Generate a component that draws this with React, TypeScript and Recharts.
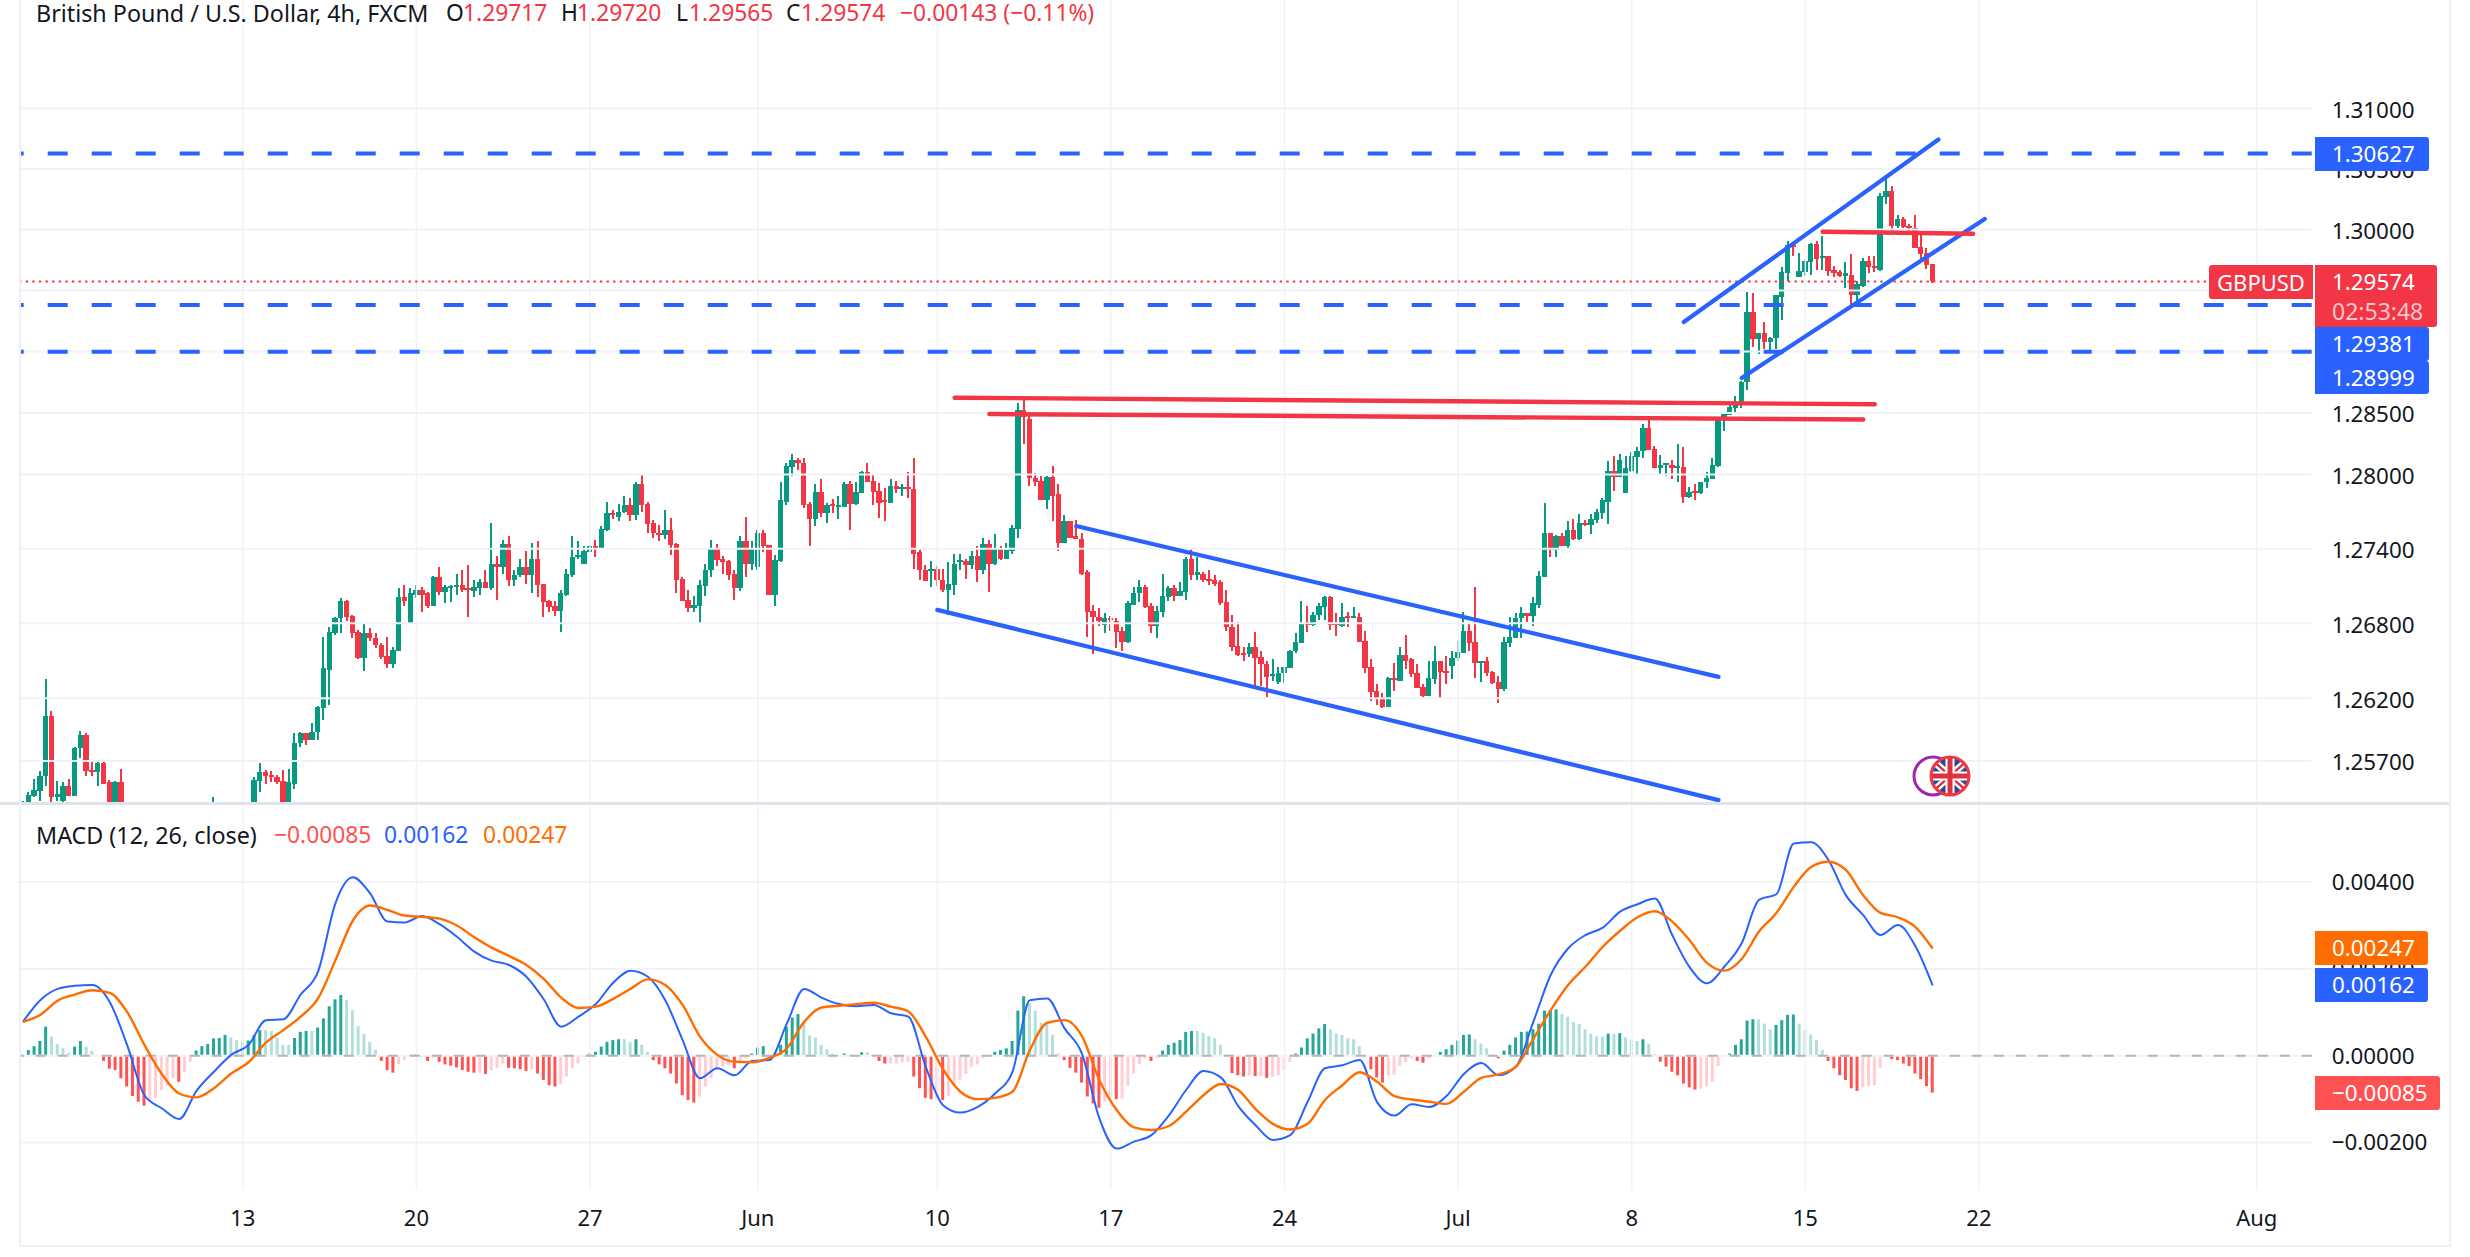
import React from 'react';
import { ComposedChart, Bar, Line, XAxis, YAxis, ReferenceLine, Cell } from 'recharts';

type C = [number, number, number, number] | null;

// open, high, low, close per 4h bar
const ohlcMayA: C[] = [
[1.2530,1.2538,1.2525,1.2533],[1.2533,1.2545,1.2528,1.2543],[1.2542,1.2556,1.2541,1.2547],[1.2546,1.2562,1.2538,1.2558],
[1.2558,1.2635,1.2550,1.2606],[1.2606,1.2610,1.2535,1.2541],[1.2541,1.2554,1.2538,1.2544],[1.2538,1.2553,1.2537,1.2550],
[1.2550,1.2556,1.2542,1.2542],[1.2542,1.2581,1.2542,1.2580],[1.2580,1.2594,1.2572,1.2591],[1.2591,1.2592,1.2558,1.2562],
[1.2563,1.2569,1.2558,1.2562],[1.2561,1.2569,1.2550,1.2568],[1.2568,1.2571,1.2552,1.2552],[1.2553,1.2555,1.2537,1.2537],
[1.2537,1.2554,1.2536,1.2553],[1.2553,1.2564,1.2525,1.2530],
null,null,null,null,null,null,null,null,null,null,null,null,null,null,null,
[1.2530,1.2541,1.2525,1.2535],
null,null,null,null,null,null,
[1.2530,1.2557,1.2525,1.2555],[1.2554,1.2568,1.2545,1.2561],[1.2561,1.2563,1.2552,1.2558],[1.2559,1.2562,1.2553,1.2558],
[1.2557,1.2559,1.2552,1.2553],[1.2554,1.2563,1.2530,1.2534],[1.2534,1.2564,1.2530,1.2553],[1.2552,1.2592,1.2548,1.2584],
[1.2584,1.2593,1.2581,1.2592],[1.2592,1.2592,1.2583,1.2587],[1.2587,1.2600,1.2587,1.2593],[1.2593,1.2614,1.2587,1.2613],
];
const ohlcMayB: C[] = [
[1.2612,1.2669,1.2603,1.2644],[1.2643,1.2677,1.2615,1.2673],[1.2672,1.2685,1.2671,1.2684],[1.2684,1.2700,1.2672,1.2698],
[1.2698,1.2699,1.2682,1.2685],[1.2686,1.2687,1.2668,1.2672],[1.2673,1.2675,1.2651,1.2652],[1.2652,1.2680,1.2642,1.2672],
[1.2672,1.2676,1.2666,1.2668],[1.2668,1.2672,1.2660,1.2663],[1.2663,1.2664,1.2651,1.2653],[1.2654,1.2669,1.2644,1.2647],
[1.2647,1.2661,1.2644,1.2659],[1.2658,1.2708,1.2658,1.2701],[1.2701,1.2711,1.2694,1.2698],[1.2680,1.2708,1.2680,1.2704],
[1.2703,1.2711,1.2700,1.2707],[1.2707,1.2709,1.2689,1.2703],[1.2704,1.2705,1.2692,1.2694],[1.2694,1.2718,1.2694,1.2717],
[1.2717,1.2725,1.2703,1.2705],[1.2705,1.2711,1.2696,1.2709],[1.2709,1.2711,1.2697,1.2710],[1.2710,1.2720,1.2703,1.2711],
[1.2711,1.2723,1.2705,1.2707],[1.2708,1.2727,1.2685,1.2707],[1.2706,1.2715,1.2701,1.2709],[1.2708,1.2716,1.2703,1.2713],
[1.2713,1.2723,1.2708,1.2708],[1.2708,1.2761,1.2707,1.2728],[1.2728,1.2734,1.2699,1.2725],[1.2725,1.2747,1.2720,1.2744],
[1.2744,1.2750,1.2710,1.2715],[1.2715,1.2723,1.2710,1.2719],[1.2719,1.2732,1.2717,1.2725],[1.2725,1.2738,1.2712,1.2719],
[1.2719,1.2745,1.2704,1.2732],[1.2732,1.2746,1.2701,1.2711],[1.2712,1.2712,1.2685,1.2697],[1.2698,1.2699,1.2689,1.2693],
[1.2694,1.2698,1.2686,1.2690],[1.2690,1.2707,1.2673,1.2704],[1.2703,1.2724,1.2702,1.2720],[1.2719,1.2750,1.2717,1.2733],
[1.2733,1.2746,1.2732,1.2735],[1.2728,1.2742,1.2728,1.2738],[1.2737,1.2743,1.2737,1.2742],[1.2742,1.2747,1.2733,1.2741],
[1.2741,1.2758,1.2741,1.2756],[1.2755,1.2778,1.2754,1.2769],[1.2769,1.2771,1.2764,1.2768],[1.2766,1.2776,1.2762,1.2770],
[1.2770,1.2783,1.2769,1.2775],[1.2775,1.2781,1.2762,1.2767],[1.2767,1.2794,1.2763,1.2792],[1.2792,1.2800,1.2770,1.2775],
[1.2776,1.2778,1.2753,1.2760],[1.2761,1.2763,1.2749,1.2753],[1.2753,1.2759,1.2746,1.2751],[1.2751,1.2771,1.2748,1.2755],
[1.2755,1.2765,1.2735,1.2743],[1.2744,1.2745,1.2704,1.2715],[1.2716,1.2717,1.2698,1.2698],[1.2699,1.2707,1.2689,1.2692],
[1.2692,1.2702,1.2689,1.2695],[1.2694,1.2715,1.2680,1.2711],[1.2710,1.2728,1.2702,1.2723],[1.2723,1.2747,1.2717,1.2741],
[1.2741,1.2744,1.2726,1.2731],[1.2732,1.2734,1.2720,1.2729],[1.2730,1.2731,1.2715,1.2719],[1.2720,1.2723,1.2699,1.2708],
[1.2708,1.2750,1.2706,1.2746],[1.2746,1.2766,1.2717,1.2728],[1.2728,1.2746,1.2723,1.2740],
];
const ohlcJunA: C[] = [
[1.2725,1.2755,1.2723,1.2753],[1.2753,1.2755,1.2737,1.2742],[1.2743,1.2743,1.2703,1.2703],[1.2703,1.2735,1.2694,1.2731],
[1.2730,1.2794,1.2729,1.2779],[1.2778,1.2809,1.2775,1.2807],[1.2806,1.2817,1.2799,1.2812],[1.2812,1.2813,1.2804,1.2809],
[1.2809,1.2813,1.2773,1.2775],[1.2776,1.2778,1.2742,1.2764],[1.2764,1.2792,1.2758,1.2786],[1.2786,1.2796,1.2766,1.2769],
[1.2769,1.2777,1.2761,1.2775],[1.2776,1.2780,1.2769,1.2775],[1.2774,1.2783,1.2764,1.2775],[1.2774,1.2794,1.2774,1.2792],
[1.2792,1.2795,1.2755,1.2776],[1.2776,1.2794,1.2775,1.2786],[1.2785,1.2803,1.2785,1.2802],[1.2802,1.2809,1.2794,1.2794],
[1.2795,1.2800,1.2775,1.2786],[1.2787,1.2793,1.2765,1.2777],[1.2779,1.2789,1.2762,1.2778],[1.2777,1.2796,1.2777,1.2791],
[1.2791,1.2795,1.2785,1.2788],[1.2788,1.2792,1.2783,1.2790],[1.2790,1.2802,1.2781,1.2788],[1.2788,1.2813,1.2724,1.2736],
[1.2737,1.2741,1.2715,1.2723],[1.2723,1.2727,1.2714,1.2714],[1.2723,1.2730,1.2709,1.2724],[1.2724,1.2726,1.2710,1.2715],
[1.2715,1.2724,1.2705,1.2707],[1.2707,1.2729,1.2687,1.2712],[1.2711,1.2736,1.2703,1.2728],[1.2729,1.2736,1.2723,1.2731],
[1.2730,1.2732,1.2716,1.2727],[1.2727,1.2738,1.2724,1.2734],[1.2734,1.2742,1.2713,1.2723],[1.2723,1.2749,1.2720,1.2744],
[1.2744,1.2747,1.2705,1.2728],[1.2728,1.2752,1.2727,1.2740],[1.2740,1.2742,1.2731,1.2732],[1.2732,1.2745,1.2732,1.2739],
[1.2738,1.2759,1.2736,1.2757],[1.2756,1.2858,1.2749,1.28525],[1.28525,1.2861,1.2825,1.2847],[1.2845,1.2848,1.2791,1.2797],
[1.2797,1.2801,1.2791,1.2794],[1.2795,1.2799,1.2779,1.2779],[1.2779,1.2799,1.2772,1.2798],[1.2798,1.2807,1.2762,1.2783],
[1.2784,1.2792,1.2738,1.2745],[1.2745,1.2767,1.2745,1.2762],[1.2762,1.2762,1.2749,1.2749],[1.2750,1.2763,1.2748,1.2748],
[1.2748,1.2753,1.2719,1.2720],[1.2721,1.2723,1.2669,1.2689],[1.2690,1.2695,1.2655,1.2685],[1.2685,1.2692,1.2678,1.2682],
[1.2679,1.2688,1.2672,1.2684],[1.2684,1.2686,1.2674,1.2683],[1.2682,1.2684,1.2660,1.2673],[1.2674,1.2677,1.2658,1.2665],
[1.2665,1.2698,1.2664,1.2696],[1.2695,1.2709,1.2695,1.2704],[1.2704,1.2715,1.2697,1.2709],[1.2709,1.2711,1.2692,1.2693],
[1.2694,1.2696,1.2672,1.2678],[1.2678,1.2694,1.2668,1.2690],[1.2689,1.2720,1.2685,1.2702],[1.2701,1.2710,1.2698,1.2708],
[1.2708,1.2711,1.2698,1.2702],[1.2702,1.2713,1.2702,1.2706],[1.2705,1.2733,1.2699,1.2732],[1.2732,1.2740,1.2715,1.2719],
[1.2719,1.2733,1.2715,1.2721],[1.2720,1.2721,1.2713,1.2715],[1.2716,1.2723,1.2711,1.2715],[1.2715,1.2719,1.2710,1.2712],
[1.2713,1.2715,1.2695,1.2696],[1.2697,1.2707,1.2674,1.2677],[1.2677,1.2687,1.2658,1.2661],[1.2662,1.2681,1.2654,1.2655],
[1.2656,1.2661,1.2650,1.2655],[1.2655,1.2664,1.2653,1.2661],[1.2661,1.2673,1.2629,1.2652],[1.2653,1.2658,1.2630,1.2647],
[1.2647,1.2650,1.2621,1.2637],[1.2638,1.2651,1.2634,1.2639],[1.2633,1.2645,1.2631,1.2640],[1.2640,1.2645,1.2632,1.2645],
[1.2644,1.2659,1.2644,1.2658],[1.2658,1.2672,1.2656,1.2665],[1.2664,1.2698,1.2664,1.2680],[1.2681,1.2694,1.2673,1.2679],
[1.2679,1.2689,1.2678,1.2687],[1.2687,1.2696,1.2683,1.2694],[1.2693,1.2702,1.2683,1.2701],[1.2701,1.2702,1.2675,1.2679],
[1.2680,1.2688,1.2670,1.2679],[1.2678,1.2696,1.2677,1.2685],[1.2686,1.2689,1.2677,1.2684],[1.2684,1.2693,1.2684,1.2686],
[1.2685,1.2688,1.2665,1.2665],[1.2666,1.2674,1.2640,1.2644],[1.2645,1.2651,1.2618,1.2625],[1.2626,1.2631,1.2615,1.2620],
[1.2621,1.2624,1.2612,1.2613],[1.2613,1.2637,1.2613,1.2636],[1.2636,1.2648,1.2626,1.2635],[1.2634,1.2661,1.2634,1.2655],
[1.2655,1.2671,1.2643,1.2650],[1.2651,1.2652,1.2637,1.2639],[1.2640,1.2647,1.2628,1.2628],[1.2629,1.2631,1.2621,1.2622],
[1.2622,1.2650,1.2622,1.2636],[1.2635,1.2662,1.2631,1.2650],[1.2650,1.2650,1.2620,1.2641],[1.2642,1.2654,1.2631,1.2641],
];
const ohlcJul: C[] = [
[1.2646,1.2658,1.2635,1.2652],[1.2652,1.2666,1.2650,1.2657],[1.2656,1.2689,1.2656,1.2674],[1.2674,1.2680,1.2658,1.2664],
[1.2665,1.2709,1.2636,1.2648],[1.2648,1.2650,1.2633,1.2650],[1.2650,1.2653,1.2638,1.2640],[1.2641,1.2642,1.2631,1.2632],
[1.2633,1.2638,1.2616,1.2627],[1.2627,1.2669,1.2626,1.2665],[1.2664,1.2685,1.2661,1.2669],[1.2668,1.2688,1.2668,1.2684],
[1.2684,1.2693,1.2668,1.2688],[1.2688,1.2688,1.2681,1.2686],[1.2686,1.2701,1.2678,1.2696],[1.2695,1.2722,1.2692,1.2718],
[1.2717,1.2777,1.2717,1.2753],[1.2753,1.2753,1.2733,1.2739],[1.2739,1.2751,1.2733,1.2750],[1.2750,1.2753,1.2742,1.2742],
[1.2742,1.2762,1.2740,1.2755],[1.2755,1.2764,1.2747,1.2748],[1.2748,1.2768,1.2747,1.2761],[1.2761,1.2763,1.2758,1.2759],
[1.2759,1.2768,1.2752,1.2764],[1.2763,1.2772,1.2761,1.2770],[1.2769,1.2781,1.2764,1.2779],[1.2778,1.2811,1.2760,1.2803],
[1.2803,1.2815,1.2787,1.2798],[1.2798,1.2817,1.2798,1.2812],[1.2785,1.2815,1.2785,1.2805],[1.2803,1.2818,1.2802,1.2815],
[1.2814,1.2822,1.2800,1.2819],[1.2819,1.2841,1.2813,1.2838],[1.2838,1.2845,1.2820,1.2820],[1.2821,1.2823,1.2805,1.2805],
[1.2805,1.2816,1.2800,1.2808],[1.2808,1.2809,1.2799,1.2809],[1.2808,1.2812,1.2796,1.2805],[1.2805,1.2825,1.2794,1.2807],
[1.2806,1.2822,1.2777,1.2782],[1.2782,1.2790,1.2781,1.2786],[1.2787,1.2792,1.2779,1.2785],[1.2785,1.2794,1.2784,1.2794],
[1.2794,1.2802,1.2789,1.2797],[1.2796,1.2813,1.2796,1.2808],[1.2807,1.2847,1.2806,1.2847],[1.2845,1.2849,1.2835,1.2849],
[1.2848,1.2859,1.2848,1.2855],[1.2854,1.2864,1.2849,1.2858],[1.2857,1.2876,1.2854,1.2875],[1.2875,1.2949,1.2869,1.2932],
[1.2932,1.2948,1.2904,1.2910],[1.2910,1.2915,1.2898,1.2915],[1.2915,1.2924,1.2902,1.2908],[1.2908,1.2912,1.2901,1.2911],
[1.2911,1.2946,1.2902,1.2946],[1.2945,1.2969,1.2926,1.2965],[1.2964,1.2991,1.2958,1.2987],[1.2987,1.2990,1.2978,1.2986],
[1.2961,1.2981,1.2961,1.2966],[1.2965,1.2975,1.2962,1.2974],[1.2973,1.2989,1.2963,1.2988],[1.2988,1.2991,1.2967,1.2976],
[1.2977,1.2995,1.2967,1.2978],[1.2978,1.2978,1.2962,1.2966],[1.2967,1.2970,1.2961,1.2964],[1.2965,1.2967,1.2961,1.2962],
[1.2962,1.2973,1.2952,1.2964],[1.2963,1.2980,1.2938,1.2946],[1.2946,1.2958,1.2941,1.2955],[1.2954,1.2977,1.2953,1.2974],
[1.2974,1.2978,1.2964,1.2969],[1.2970,1.2978,1.2965,1.2969],[1.2967,1.3030,1.2966,1.3028],[1.3027,1.3045,1.3021,1.3032],
[1.3032,1.3036,1.2998,1.3003],[1.3003,1.3012,1.3001,1.3009],[1.3009,1.3010,1.3001,1.3002],[1.3003,1.3005,1.2999,1.3001],
[1.3001,1.3012,1.2985,1.2985],[1.2986,1.2996,1.2974,1.2980],[1.2981,1.2985,1.2968,1.2971],[1.29717,1.2972,1.29565,1.29574],
];

// MACD pane, in units of 0.00001. Lines are read every third bar; histogram every bar.
const macdUnit = 0.00001;
const macdEveryThird = [
78,128,154,161,163,124,25,-91,-121,-146,-81,-37,2,25,82,84,141,194,351,411,374,309,307,322,303,274,240,219,209,182,130,67,90,119,168,196,182,128,36,-52,-29,-45,-12,-10,74,154,134,119,114,117,98,90,-25,-114,-131,-118,-87,
-37,128,132,63,5,-144,-214,-198,-183,-138,-79,-35,-50,-116,-160,-194,-183,-106,-29,-22,-10,-107,-138,-112,-118,-93,-42,-17,-45,-25,78,186,247,278,295,332,349,362,278,204,167,205,259,359,372,489,492,451,370,324,278,301,253,162,
];
const signalEveryThird = [
78,94,127,141,151,145,101,25,-42,-87,-96,-75,-41,-15,30,59,90,132,220,311,346,336,323,320,316,300,273,249,230,209,177,134,110,113,131,154,176,163,117,44,2,-14,-15,-5,17,78,111,115,119,122,113,102,44,-31,-83,-100,-97,
-83,13,76,82,45,-56,-125,-165,-171,-162,-129,-91,-65,-79,-123,-157,-170,-157,-102,-68,-38,-60,-93,-101,-106,-111,-83,-51,-43,-25,39,105,163,205,251,288,319,333,309,266,214,196,223,286,329,389,435,447,428,370,329,319,297,247,
];
const histMay = [
2,13,22,34,67,44,27,17,7,21,34,21,11,2,-12,-30,-33,-52,-71,-93,-106,-115,-106,-97,-79,-70,-52,-60,-37,-14,
12,22,27,40,41,48,42,36,32,35,48,59,59,57,42,25,25,41,55,57,57,65,86,114,130,140,128,105,68,50,
32,13,-12,-33,-39,-19,-10,2,3,-2,-12,-4,-14,-20,-23,-27,-33,-37,-39,-39,-42,-33,-29,-18,-28,-29,-31,-35,-31,-41,
-56,-68,-71,-65,-48,-29,-18,-2,5,9,21,32,36,38,38,31,38,25,9,-10,-20,-29,-41,-64,-91,-102,-108,-94,-71,-52,
];
const histJun = [
-33,-25,-22,-29,-14,-6,5,19,22,-2,2,25,67,88,96,78,47,42,25,15,5,0,5,2,-1,8,8,-1,-12,-18,
-18,-18,-15,-14,-48,-75,-97,-100,-100,-102,-93,-68,-56,-42,-25,-20,-6,-1,9,13,17,34,104,137,121,104,76,74,48,5,
-10,-28,-39,-62,-94,-110,-120,-106,-98,-100,-99,-69,-41,-19,-6,-12,-5,12,25,30,36,55,57,57,53,46,40,25,2,-40,
-45,-48,-46,-47,-47,-51,-48,-45,-33,-14,5,19,40,51,63,73,61,51,48,40,38,22,-2,-31,-50,-62,-45,-44,-23,-14,
];
const histJul = [
-6,-12,-16,-6,2,9,15,25,35,48,49,38,28,17,4,-6,12,25,42,55,56,61,74,104,105,107,96,90,78,73,
61,51,45,44,51,50,52,42,37,34,38,27,4,-14,-25,-37,-45,-64,-73,-78,-76,-71,-60,-24,-2,5,25,38,81,84,
84,74,61,71,82,94,95,74,59,49,36,13,-12,-29,-45,-56,-75,-81,-73,-70,-68,-28,2,-8,-10,-18,-24,-41,-54,-70,-85,
];

const timeTickIndex = [38, 68, 98, 127, 158, 188, 218, 248, 278, 308, 338, 386];
const timeTickLabels = ['13', '20', '27', 'Jun', '10', '17', '24', 'Jul', '8', '15', '22', 'Aug'];
const priceGrid = [1.31, 1.305, 1.3, 1.295, 1.29, 1.285, 1.28, 1.274, 1.268, 1.262, 1.257];
const priceTicks = [1.31, 1.305, 1.3, 1.285, 1.28, 1.274, 1.268, 1.262, 1.257];
const macdTicks = [0.004, 0.002, 0, -0.002];
const supportLevels = [1.30627, 1.29381, 1.28999];
const lastPrice = 1.29574;

type Seg = [number, number, number, number];
const blueTrends: Seg[] = [
  [158, 1.26908, 293, 1.25389],
  [182, 1.27583, 293, 1.26371],
  [287, 1.29242, 331, 1.30743],
  [297, 1.28785, 339, 1.30087],
];
const redTrends: Seg[] = [
  [161, 1.28624, 320, 1.2857],
  [167, 1.28491, 318, 1.28446],
  [311, 1.29982, 337, 1.29966],
];

const SLOTS = 396;
const candles: C[] = [...ohlcMayA, ...ohlcMayB, ...ohlcJunA, ...ohlcJul];
const hist = [...histMay, ...histJun, ...histJul];

const rows = Array.from({ length: SLOTS }, (_, i) => {
  const c = candles[i] ?? null;
  const k = i / 3;
  const hasLine = i % 3 === 0 && k < macdEveryThird.length;
  return {
    i,
    candle: c,
    range: c ? [c[2], c[1]] : null,
    hist: i < hist.length ? hist[i] * macdUnit : null,
    macd: hasLine ? macdEveryThird[k] * macdUnit : null,
    signal: hasLine ? signalEveryThird[k] * macdUnit : null,
  };
});

const histColor = (i: number) => {
  if (i >= hist.length) return 'transparent';
  const v = hist[i];
  const p = i > 0 ? hist[i - 1] : 0;
  if (v >= 0) return v > p ? '#26a69a' : '#b2dfdb';
  return v < p ? '#ff5252' : '#ffcdd2';
};

const UP = '#089981';
const DOWN = '#f23645';
const FONT = '"Noto Sans", sans-serif';
const INK = '#131722';
const GRID = '#f2f3f6';

const Candle = (props: any) => {
  const { x, y, width, height, payload } = props;
  const c = payload && payload.candle;
  if (!c || !Number.isFinite(y) || !Number.isFinite(height)) return null;
  const [o, h, l, cl] = c;
  const span = h - l || 1;
  const yOf = (v: number) => y + (height * (h - v)) / span;
  const cx = x + width / 2;
  const top = yOf(Math.max(o, cl));
  const bodyH = Math.max(2, Math.abs(yOf(o) - yOf(cl)));
  const color = cl >= o ? UP : DOWN;
  return (
    <g shapeRendering="crispEdges">
      <rect x={cx - 1} y={y} width={2} height={Math.max(height, 1)} fill={color} />
      <rect x={cx - 2.7} y={top} width={5.4} height={bodyH} fill={color} />
    </g>
  );
};

const timeFmt = (v: any) => timeTickLabels[timeTickIndex.indexOf(Number(v))] ?? '';
const macdFmt = (v: number) => (v < 0 ? '\u2212' : '') + Math.abs(v).toFixed(5);

const Box = ({ top, h, right, bg, text, sub }: any) => (
  <div style={{ position: 'absolute', left: 2315, top, width: right - 2315, height: h, background: bg, borderRadius: '0 3px 3px 0', color: '#fff', font: `22.4px ${FONT}` }}>
    <div style={{ position: 'absolute', left: 17, top: 0, height: 34, lineHeight: '34px' }}>{text}</div>
    {sub ? <div style={{ position: 'absolute', left: 17, top: 30, height: 32, lineHeight: '32px', fontSize: 23, color: 'rgba(255,255,255,0.72)' }}>{sub}</div> : null}
  </div>
);

const Tx = ({ x, y, c, children, size = 22.8 }: any) => (
  <div style={{ position: 'absolute', left: x, top: y - 13, height: 26, color: c, font: `${size}px/26px ${FONT}`, whiteSpace: 'nowrap' }}>{children}</div>
);

const Rule = ({ x, y, w, h, c }: any) => <div style={{ position: 'absolute', left: x, top: y, width: w, height: h, background: c }} />;

export default function App() {
  const plotRight = 158.3;
  return (
    <div style={{ position: 'absolute', left: 0, top: 0, width: 2470, height: 1257, background: '#fff', overflow: 'hidden' }}>
      <div style={{ position: 'absolute', left: 0, top: 0, width: 2470, height: 803, overflow: 'hidden' }}>
        <ComposedChart width={2470} height={803} data={rows} margin={{ top: 0, right: 0, bottom: 0, left: 20 }} barGap={0}>
          <XAxis dataKey="i" type="category" hide allowDuplicatedCategory={false} />
          <YAxis
            orientation="right"
            width={plotRight}
            scale="log"
            type="number"
            domain={[1.25366, 1.31903]}
            allowDataOverflow
            ticks={priceTicks}
            interval={0}
            tickFormatter={(v: number) => v.toFixed(5)}
            axisLine={false}
            tickLine={false}
            tickSize={0}
            tickMargin={20}
            tick={{ fontSize: 22.4, fontFamily: FONT, fill: INK, dy: 1.5 }}
          />
          {priceGrid.map((p) => (
            <ReferenceLine key={'h' + p} y={p} stroke={GRID} strokeWidth={2} />
          ))}
          {timeTickIndex.map((t) => (
            <ReferenceLine key={'v' + t} x={t} stroke={GRID} strokeWidth={1.5} />
          ))}
          {supportLevels.map((p) => (
            <ReferenceLine key={'s' + p} y={p} stroke="#2962ff" strokeWidth={4} strokeDasharray="20 24" />
          ))}
          <ReferenceLine y={lastPrice} stroke={DOWN} strokeWidth={2} strokeDasharray="2.4 4.2" />
          <Bar dataKey="range" barSize={5} isAnimationActive={false} shape={<Candle />} />
          {blueTrends.map((s, n) => (
            <ReferenceLine key={'b' + n} segment={[{ x: s[0], y: s[1] }, { x: s[2], y: s[3] }]} stroke="#2962ff" strokeWidth={4.2} strokeLinecap="round" ifOverflow="visible" />
          ))}
          {redTrends.map((s, n) => (
            <ReferenceLine key={'r' + n} segment={[{ x: s[0], y: s[1] }, { x: s[2], y: s[3] }]} stroke={DOWN} strokeWidth={4.4} strokeLinecap="round" ifOverflow="visible" />
          ))}
        </ComposedChart>
      </div>

      <div style={{ position: 'absolute', left: 0, top: 805, width: 2470, height: 441 }}>
        <ComposedChart width={2470} height={441} data={rows} margin={{ top: 0, right: 0, bottom: 0, left: 20 }} barGap={0}>
          <XAxis
            dataKey="i"
            type="category"
            allowDuplicatedCategory={false}
            height={56}
            ticks={timeTickIndex}
            interval={0}
            tickFormatter={timeFmt}
            axisLine={false}
            tickLine={false}
            tickSize={0}
            tickMargin={20}
            tick={{ fontSize: 22, fontFamily: FONT, fill: INK }}
          />
          <YAxis
            orientation="right"
            width={plotRight}
            type="number"
            domain={[-0.003094, 0.005777]}
            allowDataOverflow
            ticks={macdTicks}
            interval={0}
            tickFormatter={macdFmt}
            axisLine={false}
            tickLine={false}
            tickSize={0}
            tickMargin={20}
            tick={{ fontSize: 22.4, fontFamily: FONT, fill: INK }}
          />
          {macdTicks.map((p) => (
            <ReferenceLine key={'h' + p} y={p} stroke={GRID} strokeWidth={2} />
          ))}
          {timeTickIndex.map((t) => (
            <ReferenceLine key={'v' + t} x={t} stroke={GRID} strokeWidth={1.5} />
          ))}
          <ReferenceLine y={0} stroke="#b2b5be" strokeWidth={2} strokeDasharray="10 12" />
          <Bar dataKey="hist" barSize={3} isAnimationActive={false}>
            {rows.map((r) => (
              <Cell key={r.i} fill={histColor(r.i)} />
            ))}
          </Bar>
          <Line dataKey="macd" type="monotone" stroke="#2962ff" strokeWidth={2} dot={false} connectNulls isAnimationActive={false} />
          <Line dataKey="signal" type="monotone" stroke="#ff6d00" strokeWidth={2.4} dot={false} connectNulls isAnimationActive={false} />
        </ComposedChart>
      </div>

      <Rule x={0} y={802} w={2451} h={2.5} c="#e0e3eb" />
      <Rule x={19} y={0} w={2} h={1246} c="#eef0f5" />
      <Rule x={19} y={1245} w={2432} h={2} c="#eef0f5" />
      <Rule x={2449} y={0} w={2} h={1247} c="#eef0f5" />

      <Tx x={36} y={13} c={INK} size={23.3}>British Pound / U.S. Dollar, 4h, FXCM</Tx>
      <Tx x={446} y={13} c={INK}>O</Tx><Tx x={463} y={13} c={DOWN}>1.29717</Tx>
      <Tx x={561} y={13} c={INK}>H</Tx><Tx x={577} y={13} c={DOWN}>1.29720</Tx>
      <Tx x={676} y={13} c={INK}>L</Tx><Tx x={689} y={13} c={DOWN}>1.29565</Tx>
      <Tx x={786} y={13} c={INK}>C</Tx><Tx x={801} y={13} c={DOWN}>1.29574</Tx>
      <Tx x={900} y={13} c={DOWN}>{'\u22120.00143 (\u22120.11%)'}</Tx>

      <Tx x={36} y={835} c={INK} size={23.3}>MACD (12, 26, close)</Tx>
      <Tx x={274} y={835} c="#ff5252">{'\u22120.00085'}</Tx>
      <Tx x={384} y={835} c="#2962ff">0.00162</Tx>
      <Tx x={483} y={835} c="#ff6d00">0.00247</Tx>

      <Box top={137} h={34} right={2429} bg="#2962ff" text="1.30627" />
      <Box top={327} h={34} right={2429} bg="#2962ff" text="1.29381" />
      <Box top={361} h={33} right={2429} bg="#2962ff" text="1.28999" />
      <Box top={265} h={62} right={2437} bg={DOWN} text="1.29574" sub="02:53:48" />
      <div style={{ position: 'absolute', left: 2209, top: 265, width: 104, height: 34, background: DOWN, borderRadius: '3px 0 0 3px', color: '#fff', font: `22px/34px ${FONT}`, textAlign: 'center' }}>GBPUSD</div>
      <Box top={931} h={34} right={2428} bg="#ff6d00" text="0.00247" />
      <Box top={968} h={34} right={2428} bg="#2962ff" text="0.00162" />
      <Box top={1076} h={34} right={2440} bg="#ff5252" text={'\u22120.00085'} />

      <svg style={{ position: 'absolute', left: 1908, top: 752 }} width={64} height={48} viewBox="0 0 64 48">
        <circle cx={25} cy={24} r={19} fill="#fff" stroke="#9c27b0" strokeWidth={3} />
        <clipPath id="flag"><circle cx={42} cy={24} r={19} /></clipPath>
        <circle cx={42} cy={24} r={19} fill="#fff" />
        <g clipPath="url(#flag)">
          <rect x={20} y={4} width={44} height={40} fill="#1f4e9c" />
          <path d="M22 6 L62 42 M62 6 L22 42" stroke="#fff" strokeWidth={7} />
          <path d="M22 6 L62 42 M62 6 L22 42" stroke="#e0313f" strokeWidth={2.4} />
          <path d="M42 4 V44 M22 24 H62" stroke="#fff" strokeWidth={9} />
          <path d="M42 4 V44 M22 24 H62" stroke="#e0313f" strokeWidth={5} />
        </g>
        <circle cx={42} cy={24} r={19} fill="none" stroke={DOWN} strokeWidth={3} />
      </svg>
    </div>
  );
}
